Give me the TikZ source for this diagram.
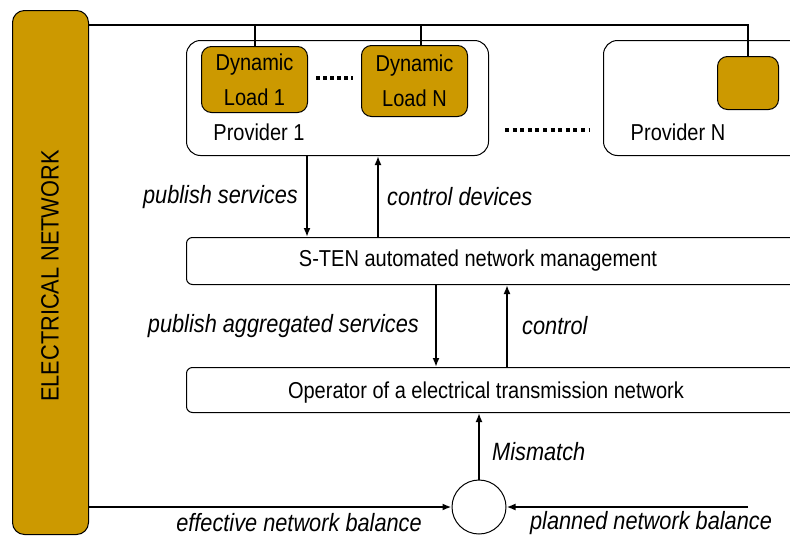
\documentclass[tikz,border=0pt]{standalone}
\usepackage{fontspec}
\setmainfont{Liberation Sans}[FakeStretch=0.87]
\usetikzlibrary{arrows.meta}
\definecolor{gold}{RGB}{204,153,0}
\tikzset{
  box/.style={draw=black, line width=1pt, fill=white, rounded corners=14pt, inner sep=0pt},
  flat/.style={draw=black, line width=1pt, fill=white, rounded corners=6pt, inner sep=0pt},
  load/.style={draw=black, line width=1pt, fill=gold, rounded corners=10pt, inner sep=0pt, align=center, font=\fontsize{23}{35}\selectfont},
  lbl/.style={font=\fontsize{23}{27}\selectfont, inner sep=0pt},
  ilbl/.style={font=\fontsize{25}{29}\selectfont\itshape, inner sep=0pt},
  arr/.style={line width=2.2pt, -{Latex[length=9pt,width=7pt]}},
  wire/.style={line width=1.4pt},
}
\begin{document}
\begin{tikzpicture}[x=1pt,y=-1pt]
\useasboundingbox (0,0) rectangle (790,536);
\clip (0,0) rectangle (790,536);
% electrical network bar
\node[draw=black, line width=1pt, fill=gold, rounded corners=12pt, minimum width=76pt, minimum height=524pt, anchor=north west, inner sep=0pt] (bar) at (12,10) {};
\node[lbl, font=\fontsize{25}{29}\selectfont, rotate=90] (barlbl) at (50,276) {ELECTRICAL NETWORK};
% providers
\node[box, minimum width=302pt, minimum height=115pt, anchor=north west] (p1) at (186,40) {};
\node[box, minimum width=230pt, minimum height=115pt, anchor=north west] (pn) at (603,40) {};
\node[lbl] (p1lbl) at (259,132) {Provider 1};
\node[lbl] (pnlbl) at (678,132) {Provider N};
% loads
\node[load, minimum width=106pt, minimum height=66pt, anchor=north west] (l1) at (201,46) {Dynamic\\Load 1};
\node[load, minimum width=106pt, minimum height=71pt, anchor=north west] (ln) at (361,45) {Dynamic\\Load N};
\node[load, minimum width=61pt, minimum height=53pt, anchor=north west] (lx) at (717,56) {};
% dots
\draw[line width=4pt, dash pattern=on 4pt off 3pt] (316,78) -- (353,78);
\draw[line width=4pt, dash pattern=on 4pt off 3.6pt] (505,130) -- (590,130);
% top wiring
\coordinate (tl) at (88,25);
\draw[wire] (tl) -- (748,25) -- (lx.north -| 748,0);
\draw[wire] (255,25) -- (l1.north -| 255,0);
\draw[wire] (421,25) -- (ln.north -| 421,0);
% management boxes
\node[flat, minimum width=660pt, minimum height=47pt, anchor=north west] (sten) at (186,237) {};
\node[lbl] (stenlbl) at (478,261) {S-TEN automated network management};
\node[flat, minimum width=660pt, minimum height=45pt, anchor=north west] (op) at (186,367) {};
\node[lbl] (oplbl) at (486,393) {Operator of a electrical transmission network};
% arrows
\draw[arr] (307,0 |- p1.south) -- (307,0 |- sten.north);
\draw[arr] (378,0 |- sten.north) -- (378,0 |- p1.south);
\draw[arr] (436,0 |- sten.south) -- (436,0 |- op.north);
\draw[arr] (507,0 |- op.north) -- (507,0 |- sten.south);
\node[ilbl, anchor=east] (ps) at (298,197) {publish services};
\node[ilbl, anchor=west] (cd) at (387,197) {control devices};
\node[ilbl, anchor=east] (pas) at (419,326) {publish aggregated services};
\node[ilbl, anchor=west] (ct) at (522,326) {control};
% comparator
\node[draw=black, line width=1pt, fill=white, circle, minimum size=54pt, inner sep=0pt] (circ) at (479,507) {};
\draw[arr] (circ.north) -- (circ.north |- op.south);
\node[ilbl, anchor=west] (mm) at (492,452) {Mismatch};
\draw[arr] (bar.east |- circ.west) -- (circ.west);
\coordinate (pl) at (748,507);
\draw[arr] (pl) -- (circ.east);
\node[ilbl] (enb) at (299,523) {effective network balance};
\node[ilbl] (pnb) at (651,523) {planned network balance};
\end{tikzpicture}
\end{document}
